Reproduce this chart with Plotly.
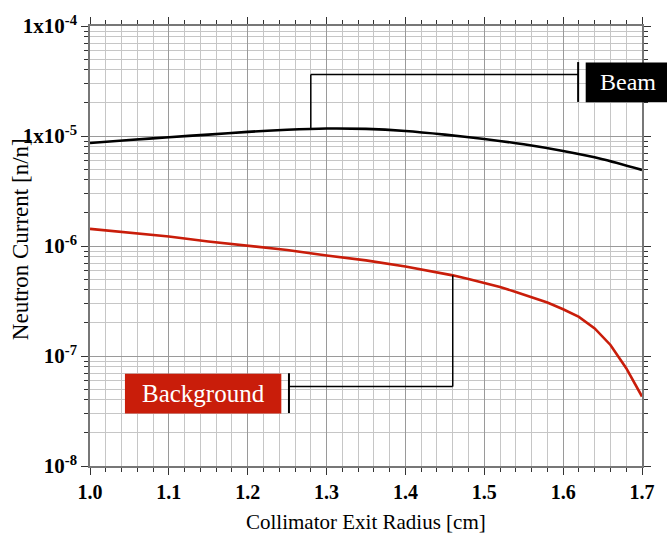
import numpy as np
import plotly.graph_objects as go

# Data
radius_beam = [1.00, 1.05, 1.10, 1.15, 1.20, 1.25, 1.30, 1.35, 1.40, 1.45, 1.50, 1.55, 1.60, 1.65, 1.70]
beam_current = [8.65e-6, 9.2e-6, 9.75e-6, 1.03e-5, 1.09e-5, 1.14e-5, 1.17e-5, 1.16e-5, 1.11e-5,
                1.03e-5, 9.4e-6, 8.4e-6, 7.3e-6, 6.15e-6, 4.92e-6]

radius_bg = [1.00, 1.05, 1.10, 1.15, 1.20, 1.25, 1.30, 1.35, 1.40, 1.44, 1.46, 1.48, 1.50, 1.52,
             1.54, 1.56, 1.58, 1.60, 1.62, 1.64, 1.66, 1.68, 1.70]
bg_current = [1.43e-6, 1.33e-6, 1.22e-6, 1.1e-6, 1.0e-6, 9.2e-7, 8.2e-7, 7.4e-7, 6.5e-7, 5.8e-7,
              5.41e-7, 5.01e-7, 4.61e-7, 4.24e-7, 3.82e-7, 3.44e-7, 3.06e-7, 2.66e-7, 2.27e-7,
              1.78e-7, 1.26e-7, 7.74e-8, 4.28e-8]

y_tickvals = [1e-8, 1e-7, 1e-6, 1e-5, 1e-4]
y_ticktext = ["10<sup>-8</sup>", "10<sup>-7</sup>", "10<sup>-6</sup>", "1x10<sup>-5</sup>", "1x10<sup>-4</sup>"]
x_tickvals = [1.0, 1.1, 1.2, 1.3, 1.4, 1.5, 1.6, 1.7]
x_ticktext = ["1.0", "1.1", "1.2", "1.3", "1.4", "1.5", "1.6", "1.7"]

RED = "#c91d0a"
FONT = "Liberation Serif"

fig = go.Figure()
fig.add_trace(go.Scatter(x=radius_beam, y=beam_current, mode="lines",
                         line=dict(color="black", width=2.6, shape="spline", smoothing=0.6),
                         showlegend=False))
fig.add_trace(go.Scatter(x=radius_bg, y=bg_current, mode="lines",
                         line=dict(color=RED, width=2.6),
                         showlegend=False))

# leader line attach points on curves
beam_attach_x = 1.28
beam_attach_y = float(10 ** np.interp(beam_attach_x, radius_beam, np.log10(beam_current)))
bg_attach_x = 1.46
bg_attach_y = float(10 ** np.interp(bg_attach_x, radius_bg, np.log10(bg_current)))

line_style = dict(color="black", width=1.5)
shapes = [
    # Beam leader
    dict(type="line", xref="x", yref="y", x0=beam_attach_x, x1=beam_attach_x, y0=beam_attach_y, y1=3.62e-5, line=line_style),
    dict(type="line", xref="x", yref="y", x0=beam_attach_x, x1=1.619, y0=3.62e-5, y1=3.62e-5, line=line_style),
    dict(type="line", xref="x", yref="y", x0=1.619, x1=1.619, y0=2.04e-5, y1=4.7e-5, line=dict(color="black", width=2)),
    # Background leader
    dict(type="line", xref="x", yref="y", x0=bg_attach_x, x1=bg_attach_x, y0=bg_attach_y, y1=5.27e-8, line=line_style),
    dict(type="line", xref="x", yref="y", x0=1.2523, x1=bg_attach_x, y0=5.27e-8, y1=5.27e-8, line=line_style),
    dict(type="line", xref="x", yref="y", x0=1.2523, x1=1.2523, y0=3.03e-8, y1=6.97e-8, line=dict(color="black", width=2)),
    # label boxes
    dict(type="rect", xref="paper", yref="paper", x0=0.898, x1=1.06, y0=0.8265, y1=0.917,
         fillcolor="black", line=dict(width=0), layer="above"),
    dict(type="rect", xref="paper", yref="paper", x0=0.0633, x1=0.3466, y0=0.1192, y1=0.2097,
         fillcolor=RED, line=dict(width=0), layer="above"),
]

annotations = [
    dict(text="Beam", xref="paper", yref="paper", x=(0.898 + 1.0434) / 2 + 0.004, y=(0.8265 + 0.917) / 2,
         showarrow=False, font=dict(family=FONT, size=24, color="white"), xanchor="center", yanchor="middle"),
    dict(text="Background", xref="paper", yref="paper", x=(0.0633 + 0.3466) / 2, y=(0.1192 + 0.2097) / 2,
         showarrow=False, font=dict(family=FONT, size=25, color="white"), xanchor="center", yanchor="middle"),
    dict(text="Collimator Exit Radius [cm]", xref="paper", yref="paper", x=(366 - 90) / 553, y=(466 - 522) / 442,
         showarrow=False, font=dict(family=FONT, size=21, color="black"), xanchor="center", yanchor="middle"),
    dict(text="Neutron Current [n/n]", xref="paper", yref="paper", x=(20 - 90) / 553, y=(466 - 238) / 442,
         showarrow=False, textangle=-90, font=dict(family=FONT, size=23, color="black"),
         xanchor="center", yanchor="middle"),
]

axis_common = dict(
    showline=True, linecolor="#777777", linewidth=1.5, mirror="allticks",
    ticks="outside", ticklen=7, tickwidth=1.2, tickcolor="#333333",
    showgrid=True, gridcolor="#9a9a9a", gridwidth=1,
    zeroline=False,
)

fig.update_layout(
    width=667, height=535,
    margin=dict(l=90, r=24, t=24, b=69),
    paper_bgcolor="white", plot_bgcolor="white",
    shapes=shapes, annotations=annotations, showlegend=False,
    xaxis=dict(range=[1.0, 1.7], tickvals=x_tickvals, ticktext=x_ticktext,
               tickfont=dict(family=FONT, size=20, color="black", weight="bold"),
               minor=dict(dtick=0.02, showgrid=True, gridcolor="#c6c6c6", gridwidth=1,
                          ticks="outside", ticklen=4, tickcolor="#333333"),
               **axis_common),
    yaxis=dict(type="log", range=[-8, -4], tickvals=y_tickvals, ticktext=y_ticktext,
               tickfont=dict(family=FONT, size=21, color="black", weight="bold"),
               minor=dict(dtick="D1", showgrid=True, gridcolor="#c6c6c6", gridwidth=1,
                          ticks="outside", ticklen=4, tickcolor="#333333"),
               **axis_common),
)

fig.write_html("out.html", config={"displayModeBar": False},
               post_script="document.body.style.margin='0';document.body.style.overflow='hidden';")
